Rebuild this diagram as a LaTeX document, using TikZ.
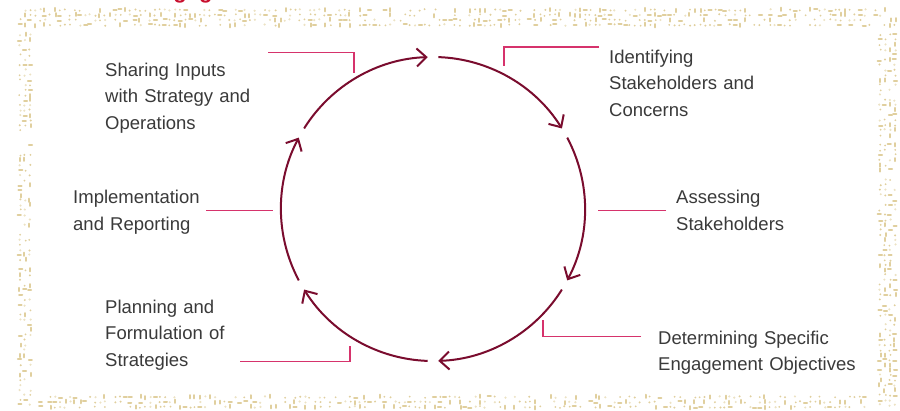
\documentclass[tikz,border=0pt]{standalone}
\usepackage{fontspec}
\setmainfont{Liberation Sans}
\usetikzlibrary{arrows.meta}

\definecolor{maroon}{RGB}{122,12,46}
\definecolor{leader}{RGB}{214,51,108}
\definecolor{ink}{RGB}{58,58,58}
\definecolor{sand}{RGB}{224,207,158}
\definecolor{sandlight}{RGB}{236,226,196}
\definecolor{titlered}{RGB}{200,16,46}

% one random speckle of the sandy frame around a grid point
\newcommand\speck[2]{%
  \pgfmathsetmacro\spkx{#1+1.6*rnd-0.8}%
  \pgfmathsetmacro\spky{#2+1.6*rnd-0.8}%
  \pgfmathrandominteger{\spkk}{0}{7}%
  \ifcase\spkk\relax
  \or \fill[sand] (\spkx,\spky) circle[radius=1.1];
  \or \draw[sandpen] (\spkx-1.6,\spky) -- (\spkx+1.6,\spky);
  \or \draw[sandpen] (\spkx,\spky-1.6) -- (\spkx,\spky+1.6);
  \or \fill[sandlight] (\spkx,\spky) circle[radius=1.2];
  \or \fill[sand] (\spkx,\spky) circle[radius=1];
  \fi}

\begin{document}
\begin{tikzpicture}[x=1pt,y=-1pt,
  sandpen/.style={sand,line width=2pt,line cap=round},
  cyc/.style={maroon,line width=2pt,-{Straight Barb[length=9.5pt,width=18pt]}},
  lead/.style={leader,line width=1.5pt},
  lbl/.style={ink,anchor=base west,align=left,text width=230pt,inner sep=0pt,
    font=\fontsize{18.5}{26.7}\selectfont}]
\useasboundingbox (0,0) rectangle (900,410);
\clip (0,0) rectangle (900,410);

% sandy speckled frame
\pgfmathsetseed{12}
\foreach \x in {20,25,...,897}{\foreach \y in {10,15,...,29}{\speck{\x}{\y}}}
\foreach \x in {20,25,...,34}{\foreach \y in {35,40,...,409}{\speck{\x}{\y}}}
\foreach \x in {880,885,...,899}{\foreach \y in {35,40,...,409}{\speck{\x}{\y}}}
\foreach \x in {40,45,...,874}{\foreach \y in {397,402,...,409}{\speck{\x}{\y}}}
\fill[white] (37,30) rectangle (876,393);

% heading, mostly above the frame
\node[titlered,anchor=base west,inner sep=0pt,
  font=\fontsize{22}{26}\bfseries\selectfont] (title) at (13,-1.8) {Stakeholder Engagement Process};

% process cycle
\coordinate (hub) at (433,209);
\foreach \c in {-120,-60,0,60,120,180}{
  \draw[cyc] (hub) ++(\c-28:152) arc[start angle=\c-28, end angle=\c+28, radius=152];
}

% labels
\node[lbl] (share) at (105,76) {Sharing Inputs\\with Strategy and\\Operations};
\node[lbl] (ident) at (609,63) {Identifying\\Stakeholders and\\Concerns};
\node[lbl] (assess) at (676,203.5) {Assessing\\Stakeholders};
\node[lbl] (determ) at (658,344) {Determining Specific\\Engagement Objectives};
\node[lbl] (plan) at (105,313) {Planning and\\Formulation of\\Strategies};
\node[lbl] (impl) at (73,203.5) {Implementation\\and Reporting};

% leader lines from labels to the cycle
\coordinate (shareA) at (268,52.5);  \coordinate (shareB) at (354,72.5);
\coordinate (identA) at (599,47);    \coordinate (identB) at (504,66);
\coordinate (assessA) at (666,210.5); \coordinate (assessB) at (598,210.5);
\coordinate (determA) at (641,336.5); \coordinate (determB) at (543,320);
\coordinate (planA) at (240,361.5);  \coordinate (planB) at (350,346);
\coordinate (implA) at (206,210.5);  \coordinate (implB) at (273,210.5);
\draw[lead] (shareA) -| (shareB);
\draw[lead] (identA) -| (identB);
\draw[lead] (assessA) -- (assessB);
\draw[lead] (determA) -| (determB);
\draw[lead] (planA) -| (planB);
\draw[lead] (implA) -- (implB);
\end{tikzpicture}
\end{document}
